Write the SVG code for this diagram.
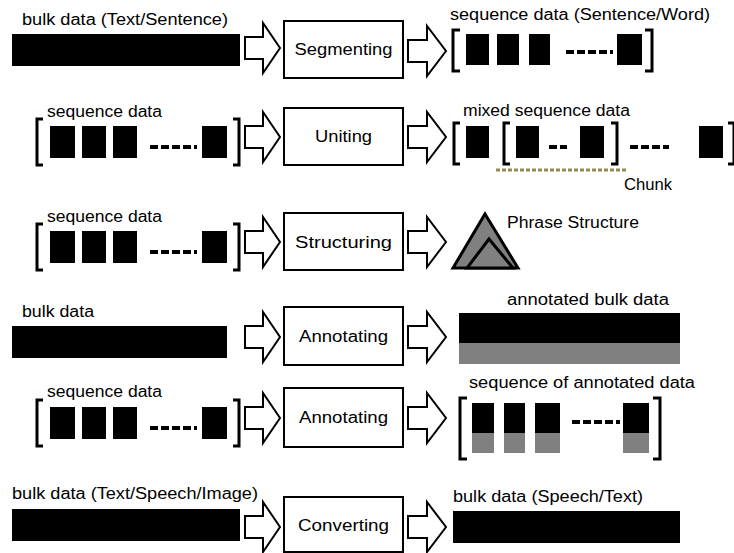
<svg xmlns="http://www.w3.org/2000/svg" xmlns:xlink="http://www.w3.org/1999/xlink" width="734" height="553" viewBox="0 0 734 553">
<style>
text{font-family:"Liberation Sans","Open Sans",Arial,sans-serif;font-size:16px;fill:#000}
.lbl{text-anchor:middle}
.box{fill:#fff;stroke:#000;stroke-width:2}
.blk{fill:#000}
.gry{fill:#808080}
.br{fill:none;stroke:#000;stroke-width:3}
.dash{fill:none;stroke:#000;stroke-width:4}
.arr{fill:#fff;stroke:#000;stroke-width:2;stroke-linejoin:miter}
.tri{fill:#808080;stroke:#000;stroke-width:3;stroke-linejoin:miter}
</style>
<defs>
<path id="arrL" class="arr" d="M0,14 H18 V0 L35,25 L18,50 V36 H0 Z"/>
<path id="arrR" class="arr" d="M0,14 H19 V0 L38,25 L19,50 V36 H0 Z"/>
<g id="seqL">
<path class="br" d="M43,0 H37 V46 H43"/>
<rect class="blk" x="50" y="7" width="25" height="32"/>
<rect class="blk" x="82" y="7" width="24" height="32"/>
<rect class="blk" x="113" y="7" width="24" height="32"/>
<path class="dash" d="M150,28 h8 m3,0 h8 m3,0 h8 m3,0 h8 m3,0 h3"/>
<rect class="blk" x="202" y="7" width="25" height="32"/>
<path class="br" d="M233,0 H239 V46 H233"/>
</g>
</defs>

<!-- Row 1 -->
<g id="n1-in">
<text x="22" y="25" textLength="206" lengthAdjust="spacingAndGlyphs">bulk data (Text/Sentence)</text>
<rect class="blk" x="12" y="34" width="228" height="32"/>
</g>
<g id="n1-proc"><rect class="box" x="284" y="21" width="119" height="57"/><text class="lbl" x="343.5" y="55" textLength="98" lengthAdjust="spacingAndGlyphs">Segmenting</text></g>
<g id="n1-out">
<text x="450" y="20" textLength="260" lengthAdjust="spacingAndGlyphs">sequence data (Sentence/Word)</text>
<path class="br" d="M460,30 H453 V71 H460"/>
<rect class="blk" x="466" y="34" width="23" height="31"/>
<rect class="blk" x="497" y="34" width="22" height="31"/>
<rect class="blk" x="529" y="34" width="21" height="31"/>
<path class="dash" d="M566,52 h8 m3,0 h8 m3,0 h8 m3,0 h8 m3,0 h3"/>
<rect class="blk" x="617" y="34" width="25" height="31"/>
<path class="br" d="M645,30 H652 V71 H645"/>
</g>

<!-- Row 2 -->
<g id="n2-in">
<text x="47" y="117" textLength="115" lengthAdjust="spacingAndGlyphs">sequence data</text>
<use xlink:href="#seqL" href="#seqL" x="0" y="119"/>
</g>
<g id="n2-proc"><rect class="box" x="284" y="108" width="119" height="57"/><text class="lbl" x="343.5" y="142" textLength="57" lengthAdjust="spacingAndGlyphs">Uniting</text></g>
<g id="n2-out">
<text x="463" y="116" textLength="167" lengthAdjust="spacingAndGlyphs">mixed sequence data</text>
<path class="br" d="M460,123 H454 V164 H460"/>
<rect class="blk" x="466" y="126" width="23" height="32"/>
<path class="br" d="M510,123 H504 V164 H510"/>
<rect class="blk" x="516" y="126" width="23" height="32"/>
<path class="dash" d="M549,147 h8 m3,0 h7"/>
<rect class="blk" x="580" y="126" width="24" height="32"/>
<path class="br" d="M611,123 H617 V164 H611"/>
<path class="dash" d="M630,147 h8 m3,0 h8 m3,0 h8 m3,0 h6"/>
<rect class="blk" x="699" y="126" width="24" height="32"/>
<path class="br" d="M728,123 H734 V164 H728"/>
<line x1="496" y1="170" x2="627" y2="170" stroke="#948a54" stroke-width="3" stroke-dasharray="4 2"/>
<text x="624" y="190" textLength="48" lengthAdjust="spacingAndGlyphs">Chunk</text>
</g>

<!-- Row 3 -->
<g id="n3-in">
<text x="47" y="222" textLength="115" lengthAdjust="spacingAndGlyphs">sequence data</text>
<use xlink:href="#seqL" href="#seqL" x="0" y="224"/>
</g>
<g id="n3-proc"><rect class="box" x="284" y="213" width="119" height="57"/><text class="lbl" x="343.5" y="248" textLength="97" lengthAdjust="spacingAndGlyphs">Structuring</text></g>
<g id="n3-out">
<path class="tri" d="M485,214 L518,268 L453,268 Z"/>
<path class="tri" d="M489,239 L513,268 L467,268 Z"/>
<text x="507" y="228" textLength="132" lengthAdjust="spacingAndGlyphs">Phrase Structure</text>
</g>

<!-- Row 4 -->
<g id="n4-in">
<text x="22" y="317" textLength="72" lengthAdjust="spacingAndGlyphs">bulk data</text>
<rect class="blk" x="12" y="326" width="215" height="32"/>
</g>
<g id="n4-proc"><rect class="box" x="284" y="307" width="119" height="58"/><text class="lbl" x="343.5" y="342" textLength="89" lengthAdjust="spacingAndGlyphs">Annotating</text></g>
<g id="n4-out">
<text x="507" y="305" textLength="162" lengthAdjust="spacingAndGlyphs">annotated bulk data</text>
<rect class="blk" x="459" y="313" width="221" height="30"/>
<rect class="gry" x="459" y="343" width="221" height="21"/>
</g>

<!-- Row 5 -->
<g id="n5-in">
<text x="47" y="397" textLength="115" lengthAdjust="spacingAndGlyphs">sequence data</text>
<use xlink:href="#seqL" href="#seqL" x="0" y="400"/>
</g>
<g id="n5-proc"><rect class="box" x="284" y="388" width="119" height="59"/><text class="lbl" x="343.5" y="423" textLength="89" lengthAdjust="spacingAndGlyphs">Annotating</text></g>
<g id="n5-out">
<text x="469" y="388" textLength="226" lengthAdjust="spacingAndGlyphs">sequence of annotated data</text>
<path class="br" d="M467,398 H460 V459 H467"/>
<rect class="blk" x="472" y="403" width="22" height="30"/>
<rect class="gry" x="472" y="433" width="22" height="20"/>
<rect class="blk" x="504" y="403" width="21" height="30"/>
<rect class="gry" x="504" y="433" width="21" height="20"/>
<rect class="blk" x="535" y="403" width="25" height="30"/>
<rect class="gry" x="535" y="433" width="25" height="20"/>
<path class="dash" d="M572,422 h8 m3,0 h8 m3,0 h8 m3,0 h8 m3,0 h4"/>
<rect class="blk" x="623" y="403" width="26" height="30"/>
<rect class="gry" x="623" y="433" width="26" height="20"/>
<path class="br" d="M653,398 H660 V459 H653"/>
</g>

<!-- Row 6 -->
<g id="n6-in">
<text x="12" y="499" textLength="246" lengthAdjust="spacingAndGlyphs">bulk data (Text/Speech/Image)</text>
<rect class="blk" x="12" y="509" width="228" height="32"/>
</g>
<g id="n6-proc"><rect class="box" x="284" y="497" width="119" height="55"/><text class="lbl" x="343.5" y="531" textLength="91" lengthAdjust="spacingAndGlyphs">Converting</text></g>
<g id="n6-out">
<text x="453" y="502" textLength="190" lengthAdjust="spacingAndGlyphs">bulk data (Speech/Text)</text>
<rect class="blk" x="453" y="511" width="227" height="32"/>
</g>

<!-- Connectors (block arrows) -->
<g id="connectors">
<use xlink:href="#arrL" href="#arrL" x="245" y="23"/>
<use xlink:href="#arrR" href="#arrR" x="408" y="26"/>
<use xlink:href="#arrL" href="#arrL" x="245" y="112"/>
<use xlink:href="#arrR" href="#arrR" x="408" y="112"/>
<use xlink:href="#arrL" href="#arrL" x="245" y="217"/>
<use xlink:href="#arrR" href="#arrR" x="408" y="217"/>
<use xlink:href="#arrL" href="#arrL" x="245" y="312"/>
<use xlink:href="#arrR" href="#arrR" x="408" y="312"/>
<use xlink:href="#arrL" href="#arrL" x="245" y="393"/>
<use xlink:href="#arrR" href="#arrR" x="408" y="393"/>
<use xlink:href="#arrL" href="#arrL" x="245" y="502"/>
<use xlink:href="#arrR" href="#arrR" x="408" y="502"/>
</g>
</svg>
